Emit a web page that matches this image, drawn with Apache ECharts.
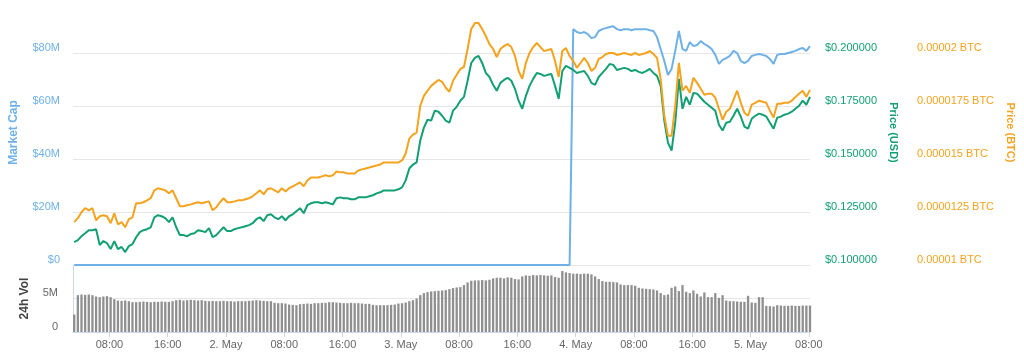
<!DOCTYPE html>
<html><head><meta charset="utf-8">
<script src="https://cdn.jsdelivr.net/npm/echarts@6/dist/echarts.min.js"></script>
<style>html,body{margin:0;padding:0;background:#fff}#c{width:1024px;height:360px}</style>
</head><body><div id="c"></div>
<script>
// ---- time base (30-minute samples) ----
const firstSample = Date.UTC(2018, 4, 1, 3, 10);
const sampleMinutes = 30;
const axisStart = Date.UTC(2018, 4, 1, 3, 0);
const axisEnd = Date.UTC(2018, 4, 5, 8, 10);

// ---- x tick positions and labels ----
const tickTimes = [
  Date.UTC(2018,4,1,8), Date.UTC(2018,4,1,16), Date.UTC(2018,4,2,0),
  Date.UTC(2018,4,2,8), Date.UTC(2018,4,2,16), Date.UTC(2018,4,3,0),
  Date.UTC(2018,4,3,8), Date.UTC(2018,4,3,16), Date.UTC(2018,4,4,0),
  Date.UTC(2018,4,4,8), Date.UTC(2018,4,4,16), Date.UTC(2018,4,5,0),
  Date.UTC(2018,4,5,8)
];
const tickLabels = ['08:00','16:00','2. May','08:00','16:00','3. May','08:00','16:00','4. May','08:00','16:00','5. May','08:00'];

// ---- Price (USD) ----
const priceUsd = [
  0.1108,0.1117,0.1136,0.1150,0.1164,0.1164,0.1169,0.1094,0.1113,0.1103,
  0.1075,0.1113,0.1075,0.1085,0.1061,0.1089,0.1099,0.1131,0.1155,0.1164,
  0.1169,0.1178,0.1225,0.1235,0.1230,0.1221,0.1202,0.1225,0.1178,0.1141,
  0.1141,0.1136,0.1146,0.1150,0.1164,0.1160,0.1155,0.1174,0.1131,0.1141,
  0.1160,0.1178,0.1160,0.1160,0.1169,0.1174,0.1178,0.1183,0.1188,0.1197,
  0.1216,0.1225,0.1207,0.1235,0.1239,0.1225,0.1216,0.1230,0.1211,0.1230,
  0.1239,0.1254,0.1268,0.1244,0.1282,0.1291,0.1296,0.1296,0.1291,0.1296,
  0.1291,0.1286,0.1315,0.1319,0.1315,0.1315,0.1310,0.1310,0.1319,0.1319,
  0.1319,0.1324,0.1329,0.1338,0.1343,0.1352,0.1352,0.1352,0.1352,0.1357,
  0.1366,0.1399,0.1455,0.1474,0.1484,0.1587,0.1648,0.1685,0.1681,0.1728,
  0.1723,0.1704,0.1681,0.1671,0.1728,0.1746,0.1775,0.1793,0.1869,0.1953,
  0.1977,0.1986,0.1953,0.1906,0.1887,0.1850,0.1822,0.1859,0.1873,0.1883,
  0.1869,0.1831,0.1775,0.1737,0.1798,0.1845,0.1878,0.1906,0.1901,0.1892,
  0.1897,0.1901,0.1845,0.1784,0.1915,0.1939,0.1930,0.1920,0.1906,0.1911,
  0.1915,0.1892,0.1859,0.1850,0.1887,0.1906,0.1925,0.1948,0.1944,0.1920,
  0.1925,0.1930,0.1925,0.1915,0.1920,0.1911,0.1906,0.1915,0.1925,0.1906,
  0.1892,0.1845,0.1681,0.1577,0.1540,0.1671,0.1878,0.1737,0.1793,0.1756,
  0.1812,0.1808,0.1789,0.1770,0.1756,0.1742,0.1728,0.1662,0.1634,0.1671,
  0.1676,0.1704,0.1737,0.1700,0.1653,0.1643,0.1690,0.1704,0.1714,0.1709,
  0.1700,0.1671,0.1643,0.1695,0.1700,0.1709,0.1714,0.1723,0.1737,0.1751,
  0.1775,0.1756,0.1793
];

// ---- Price (BTC) ----
const priceBtc = [
  1.202e-5,1.221e-5,1.249e-5,1.268e-5,1.258e-5,1.268e-5,1.211e-5,1.230e-5,1.235e-5,1.230e-5,
  1.197e-5,1.244e-5,1.192e-5,1.202e-5,1.178e-5,1.216e-5,1.225e-5,1.291e-5,1.291e-5,1.296e-5,
  1.305e-5,1.315e-5,1.352e-5,1.362e-5,1.357e-5,1.352e-5,1.338e-5,1.352e-5,1.315e-5,1.277e-5,
  1.277e-5,1.282e-5,1.286e-5,1.291e-5,1.296e-5,1.291e-5,1.296e-5,1.300e-5,1.258e-5,1.272e-5,
  1.296e-5,1.315e-5,1.296e-5,1.296e-5,1.300e-5,1.305e-5,1.305e-5,1.310e-5,1.315e-5,1.324e-5,
  1.338e-5,1.352e-5,1.333e-5,1.357e-5,1.362e-5,1.352e-5,1.343e-5,1.362e-5,1.347e-5,1.362e-5,
  1.371e-5,1.380e-5,1.390e-5,1.371e-5,1.399e-5,1.413e-5,1.413e-5,1.413e-5,1.418e-5,1.423e-5,
  1.418e-5,1.423e-5,1.441e-5,1.437e-5,1.437e-5,1.432e-5,1.432e-5,1.432e-5,1.446e-5,1.451e-5,
  1.455e-5,1.460e-5,1.465e-5,1.469e-5,1.474e-5,1.484e-5,1.484e-5,1.484e-5,1.484e-5,1.484e-5,
  1.493e-5,1.526e-5,1.596e-5,1.615e-5,1.624e-5,1.751e-5,1.798e-5,1.822e-5,1.845e-5,1.859e-5,
  1.873e-5,1.864e-5,1.836e-5,1.817e-5,1.869e-5,1.897e-5,1.925e-5,1.934e-5,2.019e-5,2.113e-5,
  2.141e-5,2.141e-5,2.113e-5,2.080e-5,2.042e-5,2.019e-5,1.981e-5,2.019e-5,2.033e-5,2.042e-5,
  2.028e-5,1.986e-5,1.915e-5,1.878e-5,1.953e-5,2.000e-5,2.028e-5,2.047e-5,2.028e-5,2.009e-5,
  2.014e-5,2.019e-5,1.962e-5,1.887e-5,2.009e-5,2.023e-5,1.986e-5,1.962e-5,1.930e-5,1.953e-5,
  1.977e-5,1.953e-5,1.915e-5,1.930e-5,1.972e-5,1.981e-5,1.995e-5,2.000e-5,2.000e-5,1.991e-5,
  1.995e-5,2.000e-5,1.995e-5,1.991e-5,2.000e-5,1.991e-5,1.995e-5,2.000e-5,2.009e-5,1.995e-5,
  1.977e-5,1.878e-5,1.704e-5,1.610e-5,1.610e-5,1.751e-5,1.953e-5,1.822e-5,1.845e-5,1.812e-5,
  1.883e-5,1.859e-5,1.831e-5,1.803e-5,1.808e-5,1.808e-5,1.789e-5,1.737e-5,1.685e-5,1.723e-5,
  1.737e-5,1.779e-5,1.822e-5,1.765e-5,1.718e-5,1.704e-5,1.756e-5,1.765e-5,1.775e-5,1.770e-5,
  1.765e-5,1.728e-5,1.695e-5,1.761e-5,1.761e-5,1.765e-5,1.765e-5,1.775e-5,1.793e-5,1.808e-5,
  1.822e-5,1.793e-5,1.826e-5
];

// ---- Market Cap (millions of USD) ----
const marketCapM = [
  0,0,0,0,0,0,0,0,0,0, 0,0,0,0,0,0,0,0,0,0, 0,0,0,0,0,0,0,0,0,0,
  0,0,0,0,0,0,0,0,0,0, 0,0,0,0,0,0,0,0,0,0, 0,0,0,0,0,0,0,0,0,0,
  0,0,0,0,0,0,0,0,0,0, 0,0,0,0,0,0,0,0,0,0, 0,0,0,0,0,0,0,0,0,0,
  0,0,0,0,0,0,0,0,0,0, 0,0,0,0,0,0,0,0,0,0, 0,0,0,0,0,0,0,0,0,0,
  0,0,0,0,0,0,0,0,0,0, 0,0,0,0,0,0,0,
  89.0,87.9,87.5,87.9,87.1,85.6,86.0,88.3,89.0,89.4,
  89.8,90.1,89.0,88.6,89.0,89.0,88.6,89.0,89.0,89.0,
  89.0,88.6,88.3,86.0,81.5,77.0,71.7,74.0,80.8,88.3,
  81.5,80.8,84.1,82.6,83.0,84.5,83.4,82.6,81.5,79.3,
  75.9,77.4,78.1,78.9,80.8,80.0,77.0,76.2,77.0,78.9,
  79.3,79.6,79.3,78.9,77.7,75.9,79.3,79.6,79.6,80.0,
  80.4,80.8,81.5,81.9,80.8,82.6
];

// ---- 24h Volume (millions of USD) ----
const volumeM = [
  2.6,5.5,5.6,5.55,5.6,5.5,5.3,5.2,5.3,5.35,
  5.2,4.9,4.7,4.65,4.7,4.6,4.45,4.45,4.5,4.55,
  4.5,4.45,4.5,4.5,4.55,4.5,4.5,4.6,4.75,4.8,
  4.7,4.75,4.8,4.75,4.7,4.75,4.65,4.6,4.65,4.6,
  4.6,4.65,4.6,4.6,4.55,4.6,4.6,4.6,4.65,4.7,
  4.75,4.7,4.65,4.6,4.6,4.35,4.3,4.3,4.25,4.1,
  4.05,4.0,4.15,4.2,4.25,4.2,4.3,4.3,4.35,4.35,
  4.45,4.45,4.4,4.35,4.3,4.3,4.35,4.3,4.3,4.25,
  4.2,4.2,4.05,4.0,4.0,4.0,4.0,4.05,4.1,4.25,
  4.3,4.4,4.6,4.75,5.0,5.5,5.8,5.95,6.05,6.1,
  6.15,6.2,6.25,6.4,6.55,6.65,6.7,7.0,7.4,7.65,
  7.7,7.7,7.75,7.7,7.8,8.0,8.1,8.1,8.0,8.15,
  8.1,7.9,7.85,8.3,8.45,8.4,8.5,8.45,8.5,8.45,
  8.4,8.45,8.2,8.1,9.1,8.9,8.8,8.7,8.7,8.65,
  8.7,8.7,8.6,8.3,7.9,7.6,7.5,7.5,7.45,7.4,
  7.1,7.0,7.0,7.0,6.9,6.6,6.5,6.45,6.4,6.35,
  6.2,5.8,5.5,5.6,6.6,6.8,6.1,7.0,6.0,5.8,
  6.2,5.7,5.3,5.9,5.2,5.2,5.8,5.1,5.5,4.7,
  4.6,4.6,4.55,4.5,4.5,5.4,4.4,4.35,5.2,5.2,
  3.9,3.85,3.8,4.0,3.95,3.9,3.9,3.95,3.9,3.9,
  3.95,3.95,3.95
];

const colMcap = '#6fb1e6', colUsd = '#129f73', colBtc = '#f5a31e';
const FONT = 'Liberation Sans';
const sampleTime = i => firstSample + i * sampleMinutes * 60000;
const pairs = arr => arr.map((v, i) => [sampleTime(i), v]);

const chart = echarts.init(document.getElementById('c'), null, {renderer: 'canvas'});
chart.setOption({
  animation: false,
  backgroundColor: '#ffffff',
  textStyle: {fontFamily: FONT},
  grid: [
    {left: 73, right: 214, top: 0, height: 265},
    {left: 73, right: 214, top: 265, height: 67}
  ],
  xAxis: [
    {type: 'value', gridIndex: 0, min: axisStart, max: axisEnd, show: false},
    {type: 'value', gridIndex: 1, min: axisStart, max: axisEnd,
      axisLine: {show: true, lineStyle: {color: '#ccd6eb'}},
      axisTick: {show: true, customValues: tickTimes, length: 5, lineStyle: {color: '#ccd6eb'}},
      splitLine: {show: false},
      axisLabel: {customValues: tickTimes, margin: 7, color: '#666', fontSize: 11, fontFamily: FONT,
        formatter: v => {
          let best = 0;
          tickTimes.forEach((t, k) => { if (Math.abs(t - v) < Math.abs(tickTimes[best] - v)) best = k; });
          return tickLabels[best];
        }}
    }
  ],
  yAxis: [
    {type: 'value', gridIndex: 0, position: 'left', min: 0, max: 100, interval: 20,
      name: 'Market Cap', nameLocation: 'middle', nameGap: 53,
      nameTextStyle: {color: colMcap, fontSize: 12, fontWeight: 'bold', fontFamily: FONT},
      axisLine: {show: false}, axisTick: {show: false},
      splitLine: {show: true, showMaxLine: false, lineStyle: {color: '#e6e6e6'}},
      axisLabel: {color: colMcap, fontSize: 11, margin: 13, verticalAlign: 'bottom', showMaxLabel: false,
        formatter: v => v === 0 ? '$0' : '$' + v + 'M'}
    },
    {type: 'value', gridIndex: 0, position: 'right', min: 0.1, max: 0.225, interval: 0.025,
      name: 'Price (USD)', nameLocation: 'middle', nameGap: 71, nameRotate: -90,
      nameTextStyle: {color: colUsd, fontSize: 11, fontWeight: 'bold', fontFamily: FONT},
      axisLine: {show: false}, axisTick: {show: false}, splitLine: {show: false},
      axisLabel: {color: colUsd, fontSize: 11, margin: 15, verticalAlign: 'bottom', showMaxLabel: false,
        formatter: v => '$' + v.toFixed(6)}
    },
    {type: 'value', gridIndex: 0, position: 'right', offset: 92, min: 1e-5, max: 2.25e-5, interval: 2.5e-6,
      name: 'Price (BTC)', nameLocation: 'middle', nameGap: 96, nameRotate: -90,
      nameTextStyle: {color: colBtc, fontSize: 11, fontWeight: 'bold', fontFamily: FONT},
      axisLine: {show: false}, axisTick: {show: false}, splitLine: {show: false},
      axisLabel: {color: colBtc, fontSize: 11, margin: 15, verticalAlign: 'bottom', showMaxLabel: false,
        formatter: v => String(+v.toFixed(9)) + ' BTC'}
    },
    {type: 'value', gridIndex: 1, position: 'left', min: 0, max: 10, interval: 5,
      name: '24h Vol', nameLocation: 'middle', nameGap: 42,
      nameTextStyle: {color: '#444', fontSize: 12, fontWeight: 'bold', fontFamily: FONT},
      axisLine: {show: true, lineStyle: {color: '#ccd6eb'}}, axisTick: {show: false},
      splitLine: {show: true, showMaxLine: false, lineStyle: {color: '#e6e6e6'}},
      axisLabel: {color: '#666', fontSize: 11, margin: 15, verticalAlign: 'bottom', showMaxLabel: false,
        formatter: v => v === 0 ? '0' : v + 'M'}
    }
  ],
  series: [
    {type: 'bar', name: '24h Vol', xAxisIndex: 1, yAxisIndex: 3, data: pairs(volumeM),
      barWidth: 2.3, itemStyle: {color: '#8f8f8f'}},
    {type: 'line', name: 'Market Cap', xAxisIndex: 0, yAxisIndex: 0, data: pairs(marketCapM),
      showSymbol: false, symbol: 'none', lineStyle: {color: colMcap, width: 2}, itemStyle: {color: colMcap}},
    {type: 'line', name: 'Price (USD)', xAxisIndex: 0, yAxisIndex: 1, data: pairs(priceUsd),
      showSymbol: false, symbol: 'none', lineStyle: {color: colUsd, width: 2}, itemStyle: {color: colUsd}},
    {type: 'line', name: 'Price (BTC)', xAxisIndex: 0, yAxisIndex: 2, data: pairs(priceBtc),
      showSymbol: false, symbol: 'none', lineStyle: {color: colBtc, width: 2}, itemStyle: {color: colBtc}}
  ]
});
</script>
</body></html>
